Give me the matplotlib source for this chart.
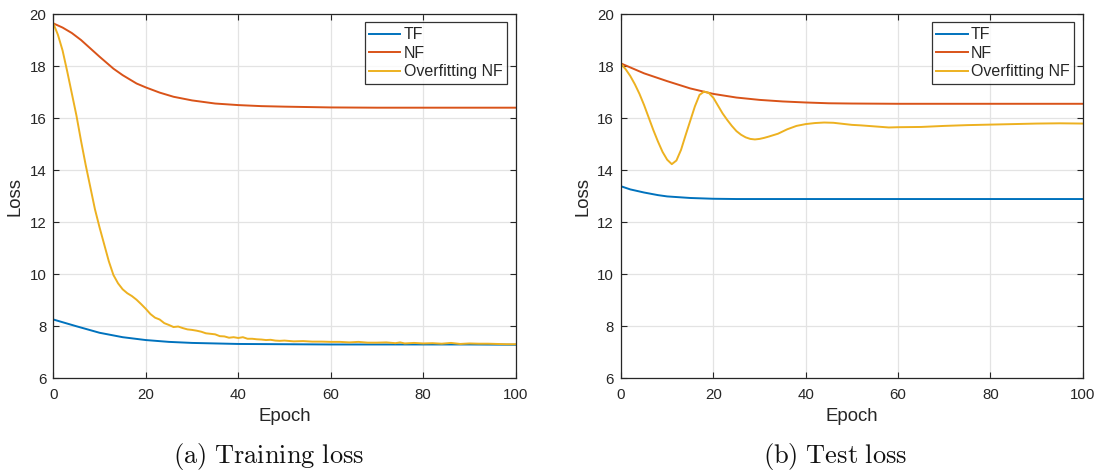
import matplotlib
matplotlib.use("Agg")
import matplotlib.pyplot as plt

plt.rcParams['font.family'] = ['Liberation Sans', 'DejaVu Sans']
plt.rcParams['mathtext.fontset'] = 'cm'

# ---------------- data ----------------
series_names = ["TF", "NF", "Overfitting NF"]
colors = ["#0072BD", "#D95319", "#EDB120"]

train_tf_x = [0, 5, 10, 15, 20, 25, 30, 35, 40, 50, 60, 70, 80, 90, 100]
train_tf_y = [8.26, 8.0, 7.75, 7.58, 7.47, 7.40, 7.36, 7.34, 7.32, 7.31, 7.30, 7.30, 7.30, 7.30, 7.29]

train_nf_x = [0, 2, 4, 6, 8, 10, 13, 15, 18, 20, 23, 26, 30, 35, 40, 45, 50, 60, 70, 80, 90, 100]
train_nf_y = [19.64, 19.48, 19.27, 19.0, 18.68, 18.36, 17.9, 17.65, 17.33, 17.18, 16.98, 16.82, 16.68,
              16.56, 16.5, 16.46, 16.44, 16.41, 16.4, 16.4, 16.4, 16.4]

train_of_x = [0, 1, 2, 3, 4, 5, 6, 7, 8, 9, 10, 11, 12, 13, 14, 15, 16, 17, 18, 19, 20,
              21, 22, 23, 24, 25, 26, 27, 28, 29, 30, 31, 32, 33, 34, 35, 36, 37, 38, 39, 40,
              41, 42, 43, 44, 45, 46, 47, 48, 49, 50, 52, 54, 56, 58, 60, 62, 64, 66, 68, 70,
              72, 74, 75, 76, 78, 80, 82, 84, 86, 88, 90, 92, 94, 96, 98, 100]
train_of_y = [19.64, 19.2, 18.6, 17.8, 16.95, 16.1, 15.12, 14.2, 13.35, 12.5, 11.8, 11.15, 10.5, 9.97, 9.65,
              9.42, 9.27, 9.16, 9.02, 8.85, 8.67, 8.47, 8.33, 8.26, 8.12, 8.05, 7.97, 7.99, 7.93, 7.88, 7.86,
              7.83, 7.79, 7.73, 7.71, 7.69, 7.62, 7.61, 7.56, 7.58, 7.55, 7.58, 7.52, 7.52, 7.50, 7.49,
              7.47, 7.48, 7.45, 7.44, 7.45, 7.42, 7.43, 7.41, 7.41, 7.40, 7.40, 7.38, 7.40, 7.37, 7.37,
              7.38, 7.35, 7.38, 7.34, 7.36, 7.34, 7.35, 7.33, 7.36, 7.32, 7.34, 7.33, 7.33, 7.32, 7.31, 7.31]

test_tf_x = [0, 2, 5, 8, 10, 15, 20, 25, 30, 40, 50, 60, 70, 80, 90, 100]
test_tf_y = [13.38, 13.26, 13.14, 13.04, 12.99, 12.93, 12.9, 12.89, 12.89, 12.89, 12.89, 12.89, 12.89, 12.89, 12.89, 12.89]

test_nf_x = [0, 5, 10, 15, 20, 25, 30, 35, 40, 45, 50, 60, 70, 80, 90, 100]
test_nf_y = [18.1, 17.72, 17.42, 17.14, 16.93, 16.79, 16.70, 16.64, 16.6, 16.57, 16.56, 16.55, 16.55, 16.55, 16.55, 16.55]

test_of_x = [0, 1, 2, 3, 4, 5, 6, 7, 8, 9, 10, 11, 12, 13, 14, 15, 16, 17, 18, 19, 20,
             21, 22, 23, 24, 25, 26, 27, 28, 29, 30, 31, 32, 34, 36, 38, 40, 42, 44, 46, 48,
             50, 52, 55, 58, 60, 65, 70, 75, 80, 85, 90, 95, 100]
test_of_y = [18.08, 17.88, 17.62, 17.3, 16.93, 16.5, 16.02, 15.54, 15.1, 14.7, 14.4, 14.23, 14.37,
             14.78, 15.35, 15.9, 16.45, 16.89, 17.02, 16.97, 16.78, 16.48, 16.18, 15.93, 15.7, 15.5,
             15.36, 15.26, 15.2, 15.18, 15.2, 15.24, 15.29, 15.4, 15.57, 15.7, 15.77, 15.81, 15.83,
             15.82, 15.78, 15.74, 15.72, 15.68, 15.64, 15.65, 15.66, 15.70, 15.73, 15.75, 15.77,
             15.79, 15.8, 15.79]

x_ticks = [0, 20, 40, 60, 80, 100]
y_ticks = [6, 8, 10, 12, 14, 16, 18, 20]
captions = ["(a) Training loss", "(b) Test loss"]

# ---------------- figure ----------------
fig = plt.figure(figsize=(10.97, 4.72), dpi=100)
positions = [[0.0486, 0.1985, 0.4215, 0.7718], [0.5661, 0.1985, 0.4209, 0.7718]]
caption_x = [268.5 / 1097, 835 / 1097]
panels = [
    [(train_tf_x, train_tf_y), (train_nf_x, train_nf_y), (train_of_x, train_of_y)],
    [(test_tf_x, test_tf_y), (test_nf_x, test_nf_y), (test_of_x, test_of_y)],
]

for pos, data, cap, cx in zip(positions, panels, captions, caption_x):
    ax = fig.add_axes(pos)
    for (xs, ys), name, c in zip(data, series_names, colors):
        ax.plot(xs, ys, color=c, lw=1.4, label=name)
    ax.set_xlim(0, 100)
    ax.set_ylim(6, 20)
    ax.set_xticks(x_ticks)
    ax.set_yticks(y_ticks)
    ax.grid(True, color="#e3e3e3", lw=0.9)
    ax.set_axisbelow(True)
    ax.tick_params(direction="in", top=True, right=True, length=4.5, width=0.8,
                   labelsize=10.8, colors="#262626", labelcolor="#262626", pad=5)
    ax.tick_params(axis="x", pad=7)
    for s in ax.spines.values():
        s.set_color("#262626")
        s.set_linewidth(0.9)
    ax.set_xlabel("Epoch", fontsize=13.4, color="#262626", labelpad=4)
    ax.set_ylabel("Loss", fontsize=13.4, color="#262626", labelpad=4)
    leg = ax.legend(loc="upper right", fontsize=11.5, frameon=True, fancybox=False,
                    handlelength=1.95, handletextpad=0.2, borderpad=0.3,
                    labelspacing=0.22, borderaxespad=0.53)
    leg.get_frame().set_edgecolor("#000000")
    leg.get_frame().set_linewidth(0.9)
    for t in leg.get_texts():
        t.set_color("#262626")
    fig.text(cx, 0.032, r"$\mathrm{" + cap.replace(" ", r"\ ") + "}$", ha="center",
             va="center", fontsize=19, color="#111111")

fig.savefig("out.png", dpi=100)
